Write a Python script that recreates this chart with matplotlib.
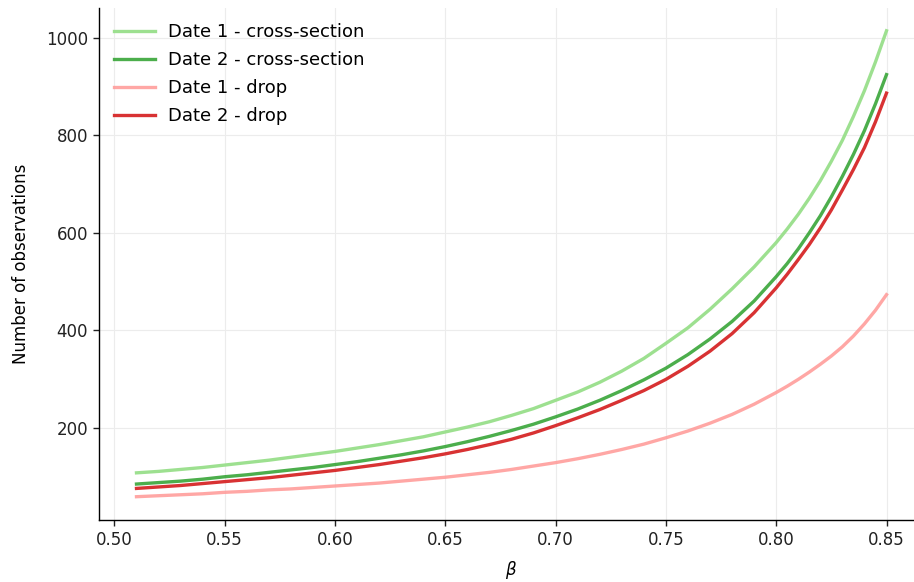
import numpy as np
from matplotlib import pyplot as plt

# beta grid and observation counts read off the reference figure
# (half steps near the steep end so the curves stay smooth)
beta = [0.51, 0.52, 0.53, 0.54, 0.55, 0.56, 0.57, 0.58, 0.59, 0.60,
        0.61, 0.62, 0.63, 0.64, 0.65, 0.66, 0.67, 0.68, 0.69, 0.70,
        0.71, 0.72, 0.73, 0.74, 0.75, 0.76, 0.77, 0.78, 0.79, 0.80,
        0.805, 0.81, 0.815, 0.82, 0.825, 0.83, 0.835, 0.84, 0.845, 0.85]

date1_cross = [107, 110, 114, 118, 123, 128, 133, 139, 145, 151,
               158, 165, 173, 181, 191, 201, 212, 225, 239, 256,
               273, 293, 316, 342, 373, 405, 443, 485, 530, 580,
               608, 638, 671, 707, 747, 790, 839, 892, 951, 1015]

date2_cross = [84, 87, 90, 94, 99, 103, 108, 113, 118, 124,
               130, 137, 144, 152, 161, 171, 182, 194, 207, 222,
               238, 256, 276, 298, 322, 350, 382, 418, 460, 510,
               537, 567, 600, 635, 674, 716, 761, 810, 865, 925]

date1_drop = [58, 60, 62, 64, 67, 69, 72, 74, 77, 80,
              83, 86, 90, 94, 98, 103, 108, 114, 121, 128,
              136, 145, 155, 166, 179, 193, 209, 227, 248, 272,
              285, 299, 314, 330, 347, 366, 388, 413, 441, 473]

date2_drop = [75, 78, 81, 85, 89, 93, 97, 102, 107, 112,
              118, 124, 131, 138, 146, 155, 165, 176, 189, 204,
              220, 237, 256, 276, 299, 326, 357, 393, 436, 487,
              515, 545, 576, 610, 647, 688, 730, 775, 828, 887]

series = [
    ("Date 1 - cross-section", date1_cross, "#98df8a", 0.95),
    ("Date 2 - cross-section", date2_cross, "#2ca02c", 0.85),
    ("Date 1 - drop", date1_drop, "#ff9896", 0.85),
    ("Date 2 - drop", date2_drop, "#d62728", 0.95),
]

fig = plt.figure(figsize=(9.14, 5.82), dpi=100)
ax = fig.add_axes([99 / 914, 62 / 582, 825 / 914, 512.5 / 582])

for label, values, col, a in series:
    ax.plot(beta, values, c=col, alpha=a, lw=2.4, label=label)

ax.set_xticks(np.arange(0.50, 0.851, 0.05))
ax.set_yticks([200, 400, 600, 800, 1000])
ax.tick_params(labelsize=12, length=4.5, width=1.0, colors="#222222")
ax.grid(True, color="#ececec", lw=0.8)
ax.set_axisbelow(True)
for s in ["top", "right"]:
    ax.spines[s].set_visible(False)
for s in ["left", "bottom"]:
    ax.spines[s].set_linewidth(1.0)

ax.set_xlabel(r"$\beta$", fontsize=12, labelpad=7)
ax.set_ylabel("Number of observations", fontsize=12, labelpad=11)

ax.legend(loc="upper left", frameon=False, fontsize=13, handlelength=2.25,
          labelspacing=0.56, borderaxespad=0.45, handletextpad=0.72)

fig.savefig("out.png", dpi=100)
